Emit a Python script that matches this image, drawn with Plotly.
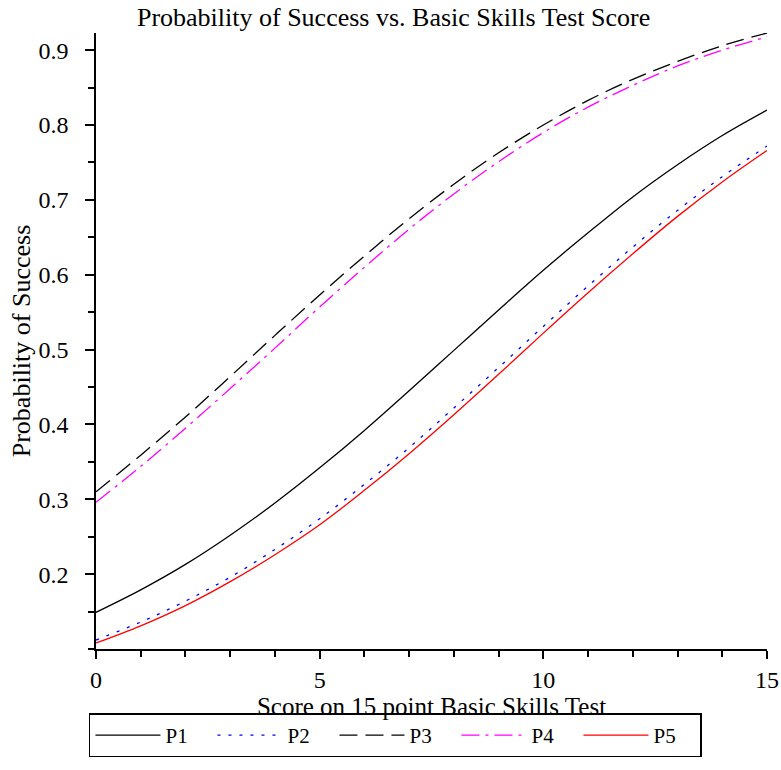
import plotly.graph_objects as go

score = list(range(16))
p1 = [0.149, 0.179, 0.213, 0.252, 0.295, 0.342, 0.392, 0.445, 0.499, 0.553, 0.606, 0.656, 0.704, 0.747, 0.786, 0.820]
p2 = [0.112, 0.136, 0.164, 0.196, 0.233, 0.274, 0.320, 0.369, 0.422, 0.476, 0.531, 0.585, 0.637, 0.686, 0.731, 0.772]
p3 = [0.310, 0.359, 0.410, 0.464, 0.519, 0.573, 0.625, 0.675, 0.721, 0.763, 0.800, 0.833, 0.861, 0.885, 0.906, 0.923]
p4 = [0.296, 0.344, 0.395, 0.448, 0.502, 0.557, 0.610, 0.661, 0.708, 0.751, 0.790, 0.824, 0.853, 0.879, 0.900, 0.918]
p5 = [0.108, 0.131, 0.158, 0.190, 0.226, 0.266, 0.312, 0.361, 0.413, 0.467, 0.522, 0.576, 0.628, 0.678, 0.724, 0.766]

series = [
    ("P1", p1, "#000000", "solid"),
    ("P2", p2, "#0000ff", "3px,8px"),
    ("P3", p3, "#000000", "18px,8px"),
    ("P4", p4, "#ff00ff", "18px,6px,3px,6px"),
    ("P5", p5, "#ff0000", "solid"),
]

y_ticks = [0.2, 0.3, 0.4, 0.5, 0.6, 0.7, 0.8, 0.9]
x_ticks = [0, 5, 10, 15]

FONT = "Liberation Serif"

fig = go.Figure()
for name, vals, color, dash in series:
    fig.add_trace(go.Scatter(
        x=score, y=vals, name=name, mode="lines",
        line=dict(color=color, width=1.3, dash=dash, shape="spline", smoothing=1.0),
    ))

fig.update_layout(
    width=781, height=770,
    paper_bgcolor="white", plot_bgcolor="white",
    margin=dict(l=96, r=14, t=33, b=111),
    font=dict(family=FONT, size=24, color="#000000"),
    title=dict(text="Probability of Success vs. Basic Skills Test Score",
               x=0.504, xref="container", xanchor="center", y=0.978, yanchor="middle",
               font=dict(family=FONT, size=26, color="#000000")),
    showlegend=True,
    legend=dict(orientation="h", x=-0.0105, xanchor="left", xref="paper",
                y=-0.176, yanchor="bottom", yref="paper",
                bordercolor="#000000", borderwidth=1.5, bgcolor="white",
                font=dict(family=FONT, size=21), entrywidth=42, itemwidth=65,
                traceorder="normal"),
)

fig.update_xaxes(
    range=[0, 15], tickvals=x_ticks, ticktext=[str(v) for v in x_ticks],
    showgrid=False, zeroline=False, showline=True, linecolor="#000000", linewidth=1.5,
    ticks="outside", ticklen=8, tickwidth=1.5, tickcolor="#000000", automargin=False,
    minor=dict(dtick=1, tick0=0, ticks="outside", ticklen=6, tickwidth=1.5, tickcolor="#000000", showgrid=False),
    tickfont=dict(family=FONT, size=24),
    title=dict(text="Score on 15 point Basic Skills Test", font=dict(family=FONT, size=25), standoff=0),
)
fig.update_yaxes(
    range=[0.1, 0.923], tickvals=y_ticks, ticktext=[f"{v:.1f}" for v in y_ticks],
    showgrid=False, zeroline=False, showline=True, linecolor="#000000", linewidth=1.5,
    ticks="outside", ticklen=9, tickwidth=1.5, tickcolor="#000000", ticklabelstandoff=12,
    automargin=False,
    minor=dict(dtick=0.05, tick0=0, ticks="outside", ticklen=6, tickwidth=1.5, tickcolor="#000000", showgrid=False),
    tickfont=dict(family=FONT, size=24),
    title=dict(text="Probability of Success", font=dict(family=FONT, size=26), standoff=0),
)

fig.write_html("out.html", config={"displayModeBar": False},
               post_script="document.body.style.margin='0';document.body.style.padding='0';")
